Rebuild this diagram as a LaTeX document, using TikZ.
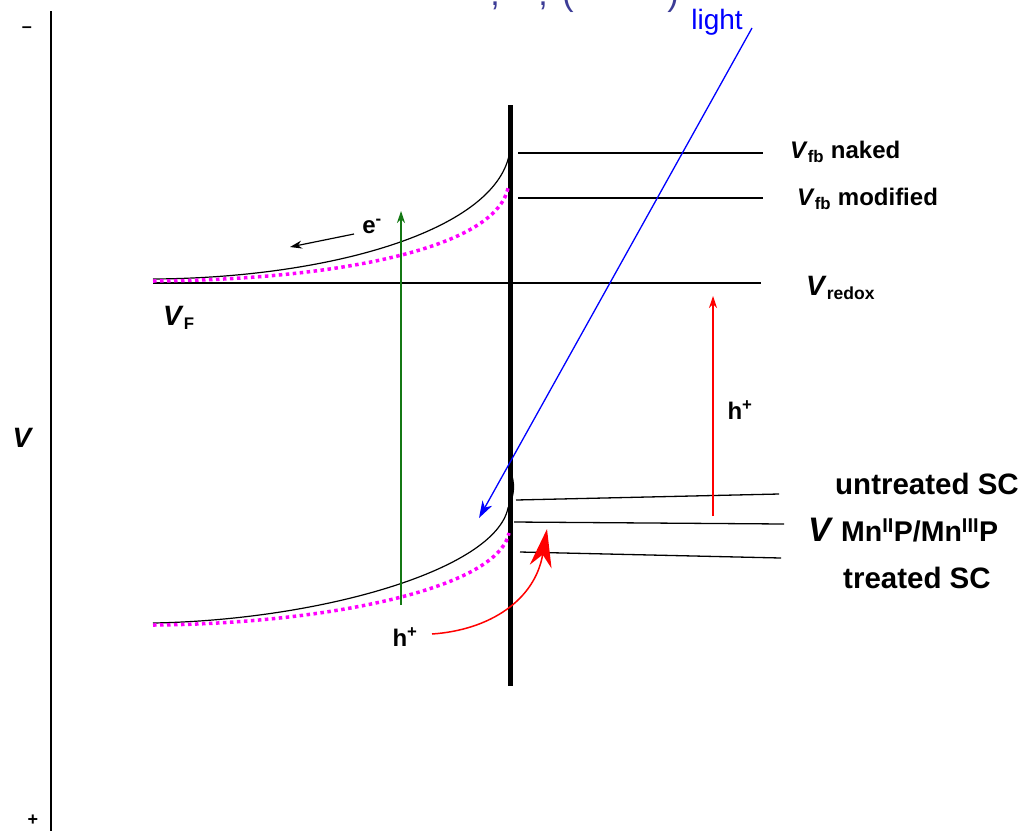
\documentclass[tikz,border=0pt]{standalone}
\usepackage{fontspec}
\setmainfont{Liberation Sans}
\usetikzlibrary{arrows.meta}
\definecolor{darkgr}{RGB}{20,120,20}
\definecolor{titleblue}{RGB}{60,60,150}
\definecolor{mgt}{RGB}{255,0,255}
\definecolor{pured}{RGB}{255,0,0}
\definecolor{pureblue}{RGB}{0,0,255}
\begin{document}
\begin{tikzpicture}[x=1pt,y=-1pt,
  lbl/.style={font=\bfseries\fontsize{24}{28}\selectfont, inner sep=0pt, anchor=west},
  biglbl/.style={font=\bfseries\fontsize{29.5}{32}\selectfont, inner sep=0pt, anchor=west},
  level/.style={line width=1.3pt},
  band/.style={line width=1.2pt},
  mag/.style={mgt, line width=3.5pt, dash pattern=on 3.5pt off 3.5pt},
  arr/.style={-{Stealth[length=12pt,width=8pt]}},
  topblue/.style={text=titleblue, font=\fontsize{34}{36}\selectfont, inner sep=0pt, anchor=base}]
\useasboundingbox (0,0) rectangle (1027,831);

% cut-off title fragments
\node[topblue] (t1) at (495,5) {,};
\node[topblue] (t2) at (543,5) {,};
\node[topblue] (t3) at (568,5) {(};
\node[topblue] (t4) at (673,5) {)};

% potential axis
\coordinate (axT) at (51,11);
\coordinate (axB) at (51,831);
\draw[line width=2pt] (axT) -- (axB);
\node[font=\bfseries\fontsize{18}{20}\selectfont] (minus) at (27,30) {–};
\node[font=\bfseries\fontsize{18}{20}\selectfont] (plus) at (33,820) {+};
\node[font=\bfseries\itshape\fontsize{28}{30}\selectfont] (Vax) at (22,438) {V};

% interface
\coordinate (ifT) at (510,105);
\coordinate (ifB) at (510,686);
\draw[line width=5pt] (ifT) -- (ifB);

% levels
\coordinate (nakL) at (518,153); \coordinate (nakR) at (763,153);
\coordinate (modL) at (518,198); \coordinate (modR) at (763,198);
\coordinate (redL) at (153,283); \coordinate (redR) at (761,283);
\coordinate (untL) at (516,500); \coordinate (untR) at (779,494);
\coordinate (mnL) at (514,522);  \coordinate (mnR) at (784,524);
\coordinate (trL) at (520,552);  \coordinate (trR) at (781,558);
\draw[level] (nakL) -- (nakR);
\draw[level] (modL) -- (modR);
\draw[level] (redL) -- (redR);
\draw[level] (untL) -- (untR);
\draw[level] (mnL) -- (mnR);
\draw[level] (trL) -- (trR);

\node[lbl] (Lnak) at (790,152) {\textit{V}\textsubscript{fb} naked};
\node[lbl] (Lmod) at (797,199) {\textit{V}\textsubscript{fb} modified};
\node[lbl] (Lred) at (806,288) {\fontsize{28}{30}\selectfont\textit{V}\fontsize{25}{28}\selectfont\textsubscript{redox}};
\node[biglbl] (Lunt) at (835,484) {untreated SC};
\node[lbl] (Lmn) at (808,530) {\fontsize{34}{34}\selectfont\textit{V}\fontsize{28.5}{30}\selectfont\ Mn\textsuperscript{II}P/Mn\textsuperscript{III}P};
\node[biglbl] (Ltr) at (843,578) {treated SC};
\node[lbl] (LVF) at (163,318) {\fontsize{28}{30}\selectfont\textit{V}\fontsize{24}{28}\selectfont\textsubscript{F}};

% bands
\coordinate (cbL) at (153,279); \coordinate (cbR) at (510,150);
\coordinate (cbmL) at (153,281); \coordinate (cbmR) at (508,188);
\coordinate (vbL) at (153,623); \coordinate (vbR) at (508,508);
\coordinate (vbmL) at (153,625); \coordinate (vbmR) at (509,533);
\draw[band] (cbL) .. controls (330,278) and (500,230) .. (cbR);
\draw[mag] (cbmL) .. controls (330,280) and (495,250) .. (cbmR);
\draw[band] (vbL) .. controls (320,620) and (495,570) .. (vbR)
  .. controls (515,495) and (515,482) .. (510,470);
\draw[mag] (vbmL) .. controls (320,624) and (497,590) .. (vbmR);

% electron
\coordinate (eS) at (354,234); \coordinate (eE) at (290,247);
\draw[arr, line width=1.2pt] (eS) -- (eE);
\node[lbl, anchor=center] (Le) at (372,226) {e\textsuperscript{-}};

% green excitation
\coordinate (gS) at (401,605); \coordinate (gE) at (401,211);
\draw[arr, line width=1.2pt, darkgr] (gS) -- (gE);

% red h+ arrow right
\coordinate (rS) at (713,516); \coordinate (rE) at (713,296);
\draw[arr, line width=1.1pt, pured] (rS) -- (rE);
\node[lbl, anchor=center] (Lh1) at (740,410) {h\textsuperscript{+}};

% red curved arrow
\node[lbl, anchor=center] (Lh2) at (405,637) {h\textsuperscript{+}};
\coordinate (cS) at (432,634); \coordinate (cE) at (547,529);
\draw[pured, line width=1.5pt, -{Stealth[length=38pt,width=22pt,inset=12pt]}] (cS) .. controls (490,630) and (535,600) .. (cE);

% light
\coordinate (lS) at (752,28); \coordinate (lE) at (479,518);
\draw[pureblue, line width=1.3pt, -{Stealth[length=17pt,width=11pt,inset=5pt]}] (lS) -- (lE);
\node[pureblue, font=\fontsize{28}{30}\selectfont, inner sep=0pt] (Llight) at (717,22) {light};
\end{tikzpicture}
\end{document}
